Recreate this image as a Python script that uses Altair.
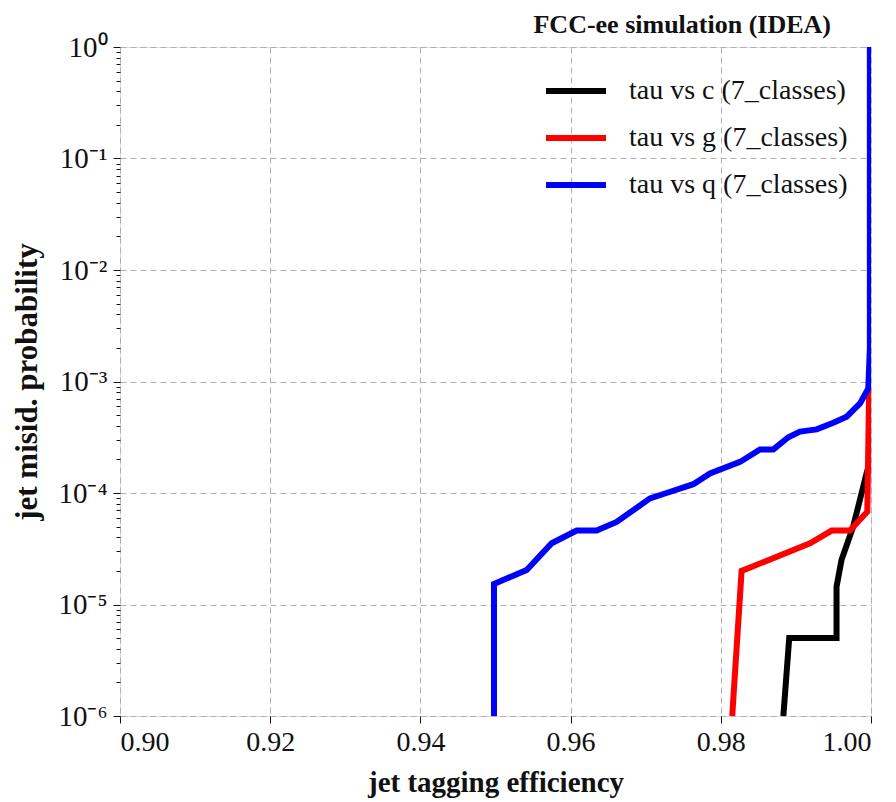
import altair as alt
import pandas as pd

# ---- data ----
series_names = ["tau vs c (7_classes)", "tau vs g (7_classes)", "tau vs q (7_classes)"]
series_colors = ["#000000", "#ff0000", "#0000ff"]

c_eff = [0.98833, 0.98911, 0.99541, 0.99541, 0.99607, 0.99763, 0.99941, 0.99975]
c_mis = [1.0e-6, 5.0e-6, 5.0e-6, 1.44e-5, 2.5e-5, 5.0e-5, 1.5e-4, 1.8e-4]

g_eff = [0.98152, 0.98277, 0.99188, 0.99476, 0.99720, 0.99951, 0.99975]
g_mis = [1.0e-6, 2.0e-5, 3.54e-5, 4.6e-5, 4.6e-5, 6.8e-5, 8.5e-4]

q_eff = [0.9498, 0.9498, 0.95415, 0.95748, 0.96081, 0.96347, 0.96613, 0.97057, 0.97257,
         0.97634, 0.97856, 0.98256, 0.98522, 0.98700, 0.98899, 0.99055, 0.99277,
         0.99498, 0.99676, 0.99854, 0.99964, 0.99985, 0.99985]
q_mis = [1.0e-6, 1.53e-5, 2.04e-5, 3.54e-5, 4.6e-5, 4.6e-5, 5.5e-5, 8.95e-5, 9.9e-5,
         1.2e-4, 1.5e-4, 1.9e-4, 2.46e-4, 2.46e-4, 3.16e-4, 3.55e-4, 3.72e-4,
         4.26e-4, 4.83e-4, 6.37e-4, 8.67e-4, 2.0e-3, 1.0]

x_ticks = [0.90, 0.92, 0.94, 0.96, 0.98, 1.00]
y_ticks = [m * 10.0 ** e for e in range(-6, 0) for m in range(1, 10)] + [1.0]

rows = []
for name, xs, ys in zip(series_names, [c_eff, g_eff, q_eff], [c_mis, g_mis, q_mis]):
    for i, (x, y) in enumerate(zip(xs, ys)):
        rows.append({"series": name, "eff": x, "mis": y, "i": i})
df = pd.DataFrame(rows)

SERIF = "Liberation Serif"
is_major = "abs(log(datum.value)/LN10 - round(log(datum.value)/LN10)) < 0.001"
exp_expr = "round(log(datum.value)/LN10)"
label_expr = (
    f"({is_major}) ? '10' + ({exp_expr} < 0 ? '⁻' : '') + "
    f"['⁰','¹','²','³','⁴','⁵','⁶','⁷','⁸','⁹'][abs({exp_expr})] : ''"
)

chart = alt.Chart(df).mark_line(strokeWidth=6, clip=True).encode(
    x=alt.X(
        "eff:Q",
        scale=alt.Scale(domain=[0.90, 1.00], nice=False, zero=False),
        axis=alt.Axis(
            title="jet tagging efficiency",
            values=x_ticks,
            format=".2f",
            titleFont=SERIF, titleFontSize=29, titleFontWeight="bold",
            titleColor="#111", titlePadding=12,
            labelFont=SERIF, labelFontSize=28, labelColor="#111",
            labelPadding=5, tickSize=7, tickColor="#111",
            grid=True, gridDash=[6, 4], gridColor="#b0b0b0", gridWidth=1,
            domain=False,
        ),
    ),
    y=alt.Y(
        "mis:Q",
        scale=alt.Scale(type="log", domain=[1e-6, 1.0], nice=False, clamp=True),
        axis=alt.Axis(
            title="jet misid. probability",
            values=y_ticks,
            labelExpr=label_expr,
            titleFont=SERIF, titleFontSize=31, titleFontWeight="bold",
            titleColor="#111", titlePadding=14,
            labelFont=SERIF, labelFontSize=29, labelColor="#111",
            labelPadding=6, tickColor="#111",
            tickSize={"condition": {"test": is_major, "value": 7}, "value": 4},
            grid=True, gridDash=[6, 4], gridColor="#b0b0b0", gridWidth=1,
            gridOpacity={"condition": {"test": is_major, "value": 1}, "value": 0},
            labelOverlap=False,
            domain=False,
        ),
    ),
    color=alt.Color(
        "series:N",
        scale=alt.Scale(domain=series_names, range=series_colors),
        legend=alt.Legend(
            title=None, orient="none", legendX=423, legendY=11,
            symbolType="stroke", symbolSize=3600, symbolStrokeWidth=6,
            labelFont=SERIF, labelFontSize=28, labelColor="#111",
            labelOffset=20, rowPadding=-12, labelLimit=400,
        ),
    ),
    order="i:Q",
).properties(
    width=751,
    height=669,
    title=alt.TitleParams(
        "FCC-ee simulation (IDEA)", anchor="end", frame="group", font=SERIF,
        fontSize=26, fontWeight="bold", color="#111", offset=-5, dx=-40,
    ),
    autosize=alt.AutoSizeParams(type="none"),
    padding={"left": 120, "top": 47, "right": 25, "bottom": 86},
).configure_view(stroke="#111", strokeWidth=1.5).configure(background="white")

chart.save("out.html", embed_options={"renderer": "svg", "actions": False})
